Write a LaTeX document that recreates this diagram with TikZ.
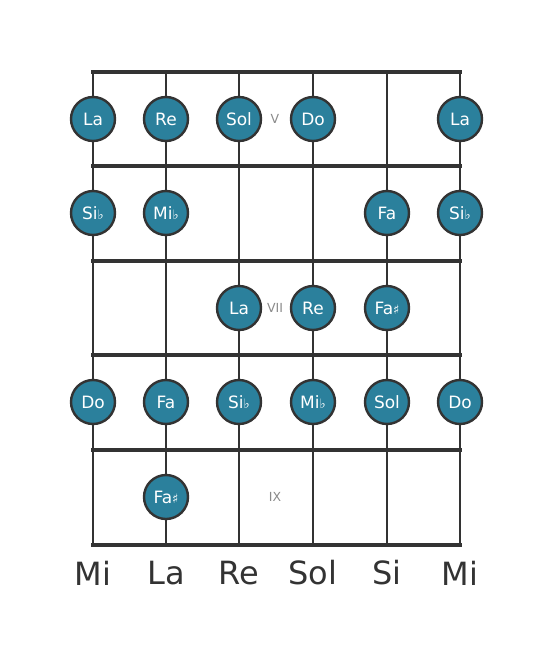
\documentclass[tikz,border=0pt]{standalone}
\usepackage{fontspec}
\setmainfont{DejaVu Sans}
\usetikzlibrary{positioning}
\definecolor{notefill}{HTML}{2B809C}
\definecolor{wire}{HTML}{333333}
\definecolor{fretgray}{HTML}{8A8A8A}
\newcommand{\bemol}{{\fontsize{13}{13}\selectfont ♭}}
\newcommand{\diese}{{\fontsize{13}{13}\selectfont ♯}}

\tikzset{
    string/.style={draw=wire, line width=2.6pt},
    fret/.style={draw=wire, line width=4.2pt},
    note/.style={circle, draw=wire, line width=2.4pt, fill=notefill,
        minimum size=44pt, inner sep=0pt, text=white,
        font=\fontsize{17}{17}\selectfont},
    fretnum/.style={text=fretgray, font=\fontsize{12.5}{12.5}\selectfont},
    strname/.style={text=wire, font=\fontsize{32}{32}\selectfont}
}

\begin{document}
\begin{tikzpicture}[x=1pt, y=-1pt]
    \useasboundingbox (0,0) rectangle (553,656);

    % strings %
    \foreach \s/\x in {1/93, 2/166, 3/239, 4/313, 5/387, 6/460} {
        \coordinate (top\s) at (\x,72);
        \coordinate (bot\s) at (\x,545);
        \draw[string] (top\s) -- (bot\s);
    }

    % frets %
    \foreach \f/\y in {0/72, 1/166, 2/261, 3/355, 4/450, 5/545}
        \draw[fret] (91,\y) -- (462,\y);

    % fret numbers %
    \node[fretnum] (fV) at (275,119) {V};
    \node[fretnum] (fVII) at (275,308) {VII};
    \node[fretnum] (fIX) at (275,497) {IX};

    % notes, row by row %
    \node[note] (a1) at (93,119) {La};
    \node[note] (a2) at (166,119) {Re};
    \node[note] (a3) at (239,119) {Sol};
    \node[note] (a4) at (313,119) {Do};
    \node[note] (a6) at (460,119) {La};

    \node[note] (b1) at (93,213) {Si\bemol};
    \node[note] (b2) at (166,213) {Mi\bemol};
    \node[note] (b5) at (387,213) {Fa};
    \node[note] (b6) at (460,213) {Si\bemol};

    \node[note] (c3) at (239,308) {La};
    \node[note] (c4) at (313,308) {Re};
    \node[note] (c5) at (387,308) {Fa\diese};

    \node[note] (d1) at (93,402) {Do};
    \node[note] (d2) at (166,402) {Fa};
    \node[note] (d3) at (239,402) {Si\bemol};
    \node[note] (d4) at (313,402) {Mi\bemol};
    \node[note] (d5) at (387,402) {Sol};
    \node[note] (d6) at (460,402) {Do};

    \node[note] (e2) at (166,497) {Fa\diese};

    % open strings %
    \node[strname] (s1) at (93,573) {Mi};
    \node[strname] (s2) at (166,573) {La};
    \node[strname] (s3) at (239,573) {Re};
    \node[strname] (s4) at (313,573) {Sol};
    \node[strname] (s5) at (387,573) {Si};
    \node[strname] (s6) at (460,573) {Mi};
\end{tikzpicture}
\end{document}
